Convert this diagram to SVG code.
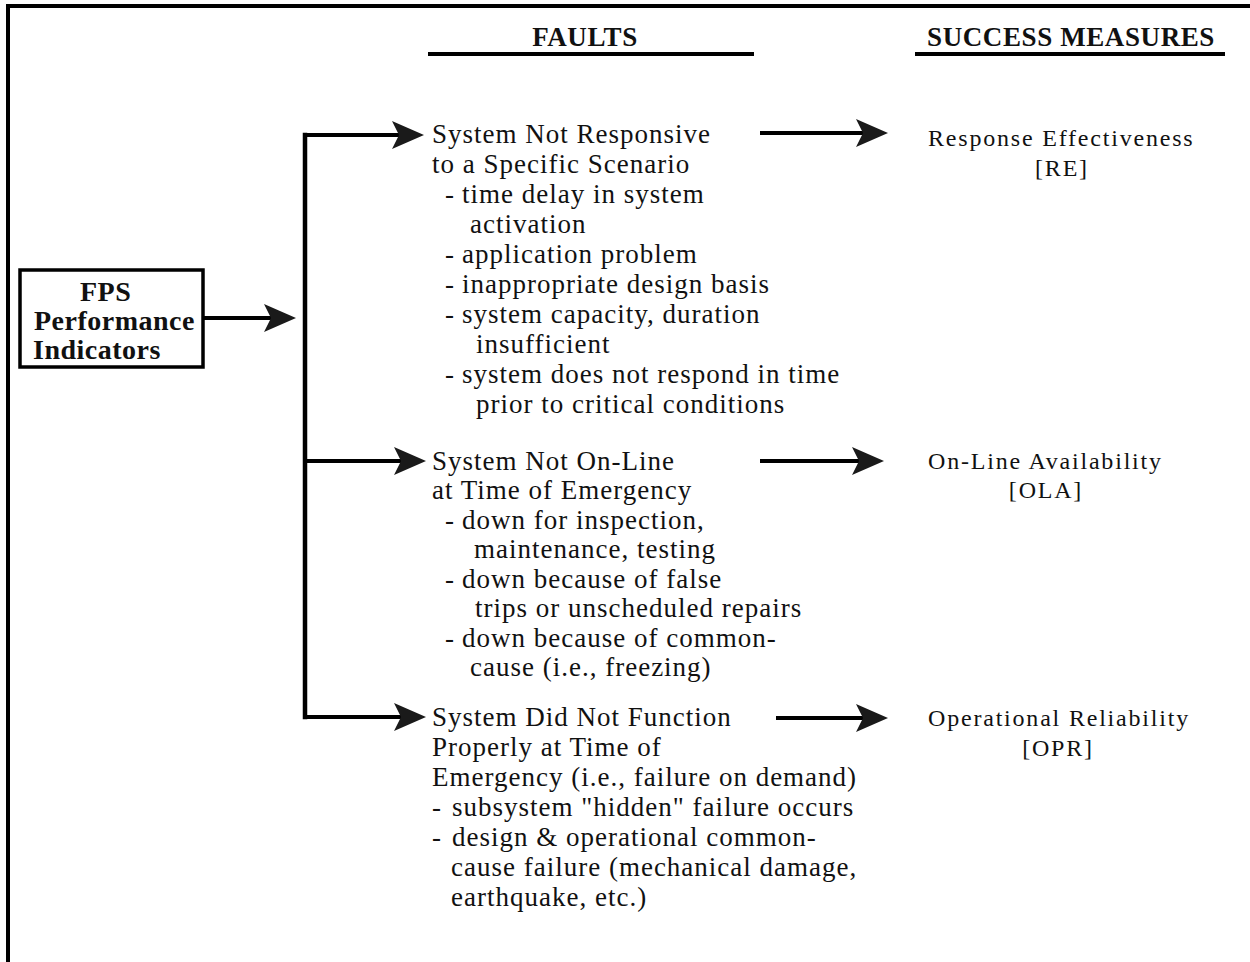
<svg xmlns="http://www.w3.org/2000/svg" width="1250" height="962" viewBox="0 0 1250 962">
  <style>
    .frame { fill: none; stroke: #000; stroke-width: 4; }
    .head { font-family: "Liberation Serif", "Times New Roman", serif; font-weight: bold; font-size: 27px; fill: #111; letter-spacing: 0.6px; }
    .rule { stroke: #000; stroke-width: 4; }
    .box { fill: #fff; stroke: #000; stroke-width: 3.5; }
    .boxtxt { font-family: "Liberation Serif", "Times New Roman", serif; font-weight: bold; font-size: 28px; fill: #111; letter-spacing: 0.5px; }
    .fault { font-family: "Liberation Serif", "Times New Roman", serif; font-size: 27px; fill: #111; letter-spacing: 1px; }
    .measure { font-family: "Liberation Serif", "Times New Roman", serif; font-size: 24px; fill: #111; letter-spacing: 1.8px; }
    .wire { fill: none; stroke: #000; stroke-width: 4.5; stroke-linecap: square; }
    .arrow { fill: none; stroke: #000; stroke-width: 4; marker-end: url(#head); }
  </style>
  <defs>
    <marker id="head" markerUnits="userSpaceOnUse" viewBox="0 0 32 28" markerWidth="32" markerHeight="28" refX="8" refY="14" orient="auto">
      <path d="M0,0 L32,14 L0,28 L7,14 Z" fill="#1a1a1a"/>
    </marker>
  </defs>

  <rect width="1250" height="962" fill="#fff"/>

  <!-- outer frame: top and left edges only -->
  <path class="frame" d="M8,962 V6 H1250"/>

  <!-- column headings -->
  <g id="heading-faults">
    <text class="head" x="585" y="46" text-anchor="middle">FAULTS</text>
    <line class="rule" x1="428" y1="54" x2="754" y2="54"/>
  </g>
  <g id="heading-measures">
    <text class="head" x="1071" y="46" text-anchor="middle">SUCCESS MEASURES</text>
    <line class="rule" x1="915" y1="54" x2="1225" y2="54"/>
  </g>

  <!-- root node -->
  <g id="node-fps">
    <rect class="box" x="20" y="270" width="183" height="97"/>
    <text class="boxtxt" x="80" y="301">FPS</text>
    <text class="boxtxt" x="34" y="330">Performance</text>
    <text class="boxtxt" x="33" y="359">Indicators</text>
  </g>

  <!-- fault descriptions -->
  <g id="node-fault-response">
    <text class="fault" x="432" y="143">System Not Responsive</text>
    <text class="fault" x="432" y="173">to a Specific Scenario</text>
    <text class="fault" y="203"><tspan x="445">-</tspan><tspan x="462">time delay in system</tspan></text>
    <text class="fault" x="470" y="233">activation</text>
    <text class="fault" y="263"><tspan x="445">-</tspan><tspan x="462">application problem</tspan></text>
    <text class="fault" y="293"><tspan x="445">-</tspan><tspan x="462">inappropriate design basis</tspan></text>
    <text class="fault" y="323"><tspan x="445">-</tspan><tspan x="462">system capacity, duration</tspan></text>
    <text class="fault" x="476" y="353">insufficient</text>
    <text class="fault" y="383"><tspan x="445">-</tspan><tspan x="462">system does not respond in time</tspan></text>
    <text class="fault" x="476" y="413">prior to critical conditions</text>
  </g>

  <g id="node-fault-online">
    <text class="fault" x="432" y="470">System Not On-Line</text>
    <text class="fault" x="432" y="499">at Time of Emergency</text>
    <text class="fault" y="529"><tspan x="445">-</tspan><tspan x="462">down for inspection,</tspan></text>
    <text class="fault" x="474" y="558">maintenance, testing</text>
    <text class="fault" y="588"><tspan x="445">-</tspan><tspan x="462">down because of false</tspan></text>
    <text class="fault" x="475" y="617">trips or unscheduled repairs</text>
    <text class="fault" y="647"><tspan x="445">-</tspan><tspan x="462">down because of common-</tspan></text>
    <text class="fault" x="470" y="676">cause (i.e., freezing)</text>
  </g>

  <g id="node-fault-function">
    <text class="fault" x="432" y="726">System Did Not Function</text>
    <text class="fault" x="432" y="756">Properly at Time of</text>
    <text class="fault" x="432" y="786">Emergency (i.e., failure on demand)</text>
    <text class="fault" y="816"><tspan x="432">-</tspan><tspan x="452">subsystem "hidden" failure occurs</tspan></text>
    <text class="fault" y="846"><tspan x="432">-</tspan><tspan x="452">design &amp; operational common-</tspan></text>
    <text class="fault" x="451" y="876">cause failure (mechanical damage,</text>
    <text class="fault" x="451" y="906">earthquake, etc.)</text>
  </g>

  <!-- success measures -->
  <g id="node-measure-re">
    <text class="measure" x="928" y="146">Response Effectiveness</text>
    <text class="measure" x="1062" y="176" text-anchor="middle">[RE]</text>
  </g>
  <g id="node-measure-ola">
    <text class="measure" x="928" y="469">On-Line Availability</text>
    <text class="measure" x="1046" y="498" text-anchor="middle">[OLA]</text>
  </g>
  <g id="node-measure-opr">
    <text class="measure" x="928" y="726">Operational Reliability</text>
    <text class="measure" x="1058" y="756" text-anchor="middle">[OPR]</text>
  </g>

  <!-- connectors -->
  <g id="connectors">
    <line class="arrow" x1="203" y1="318" x2="272" y2="318"/>
    <line class="wire" x1="305" y1="135" x2="305" y2="717"/>
    <line class="arrow" x1="305" y1="135" x2="400" y2="135"/>
    <line class="arrow" x1="305" y1="461" x2="402" y2="461"/>
    <line class="arrow" x1="305" y1="717" x2="402" y2="717"/>
    <line class="arrow" x1="760" y1="133" x2="864" y2="133"/>
    <line class="arrow" x1="760" y1="461" x2="860" y2="461"/>
    <line class="arrow" x1="776" y1="718" x2="864" y2="718"/>
  </g>
</svg>
